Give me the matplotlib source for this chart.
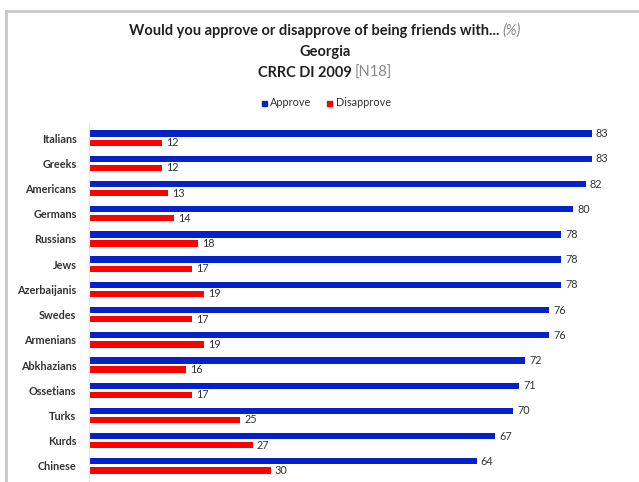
import matplotlib
matplotlib.use("Agg")
import matplotlib.pyplot as plt
import numpy as np
from matplotlib.lines import Line2D
from matplotlib.patches import Rectangle

# Data (CRRC DI 2009, Georgia)
groups = ["Italians", "Greeks", "Americans", "Germans", "Russians", "Jews",
          "Azerbaijanis", "Swedes", "Armenians", "Abkhazians", "Ossetians",
          "Turks", "Kurds", "Chinese"]
approve = [83, 83, 82, 80, 78, 78, 78, 76, 76, 72, 71, 70, 67, 64]
disapprove = [12, 12, 13, 14, 18, 17, 19, 17, 19, 16, 17, 25, 27, 30]

blue = "#0521C8"
red = "#FF0000"
txt = "#333333"
font = "Lato"

fig = plt.figure(figsize=(6.39, 4.82), dpi=100)
W, H = 639, 482

# light frame from the slide crop
fig.add_artist(Line2D([6 / W, 638 / W], [1 - 11 / H, 1 - 11 / H], color="#c8c8c8", lw=2))
fig.add_artist(Line2D([6 / W, 6 / W], [0, 1 - 11 / H], color="#c8c8c8", lw=2))

ax = fig.add_axes([89 / W, 1 - 481 / H, 545 / W, (481 - 123) / H])
y = np.arange(len(groups))
off = 0.18
h = 0.25
ax.barh(y - off, approve, height=h, color=blue)
ax.barh(y + off, disapprove, height=h, color=red)

for yi, a, d in zip(y, approve, disapprove):
    ax.text(a + 0.7, yi - off, str(a), va="center", ha="left", fontsize=7.8,
            color=txt, family=font)
    ax.text(d + 0.7, yi + off, str(d), va="center", ha="left", fontsize=7.8,
            color=txt, family=font)

ax.set_xlim(0, 90)
ax.set_ylim(len(groups) - 0.4, -0.6)
ax.set_yticks(y)
ax.set_yticklabels(groups, fontsize=7.8, color=txt, family=font, fontweight="bold")
ax.tick_params(axis="y", length=0, pad=9)
ax.set_xticks([])
for s in ["top", "right", "bottom"]:
    ax.spines[s].set_visible(False)
ax.spines["left"].set_color("#e6e6e6")

# title lines, part bold, part plain grey
def title_line(ypix, bold_part, plain_part, italic=False):
    fig.canvas.draw()
    r = fig.canvas.get_renderer()
    t1 = fig.text(0, 1 - ypix / H, bold_part, fontsize=10.5, fontweight="bold",
                  family=font, color="#222222", va="center")
    t2 = fig.text(0, 1 - ypix / H, plain_part, fontsize=10.5,
                  family=font, color="#888888", va="center",
                  style="italic" if italic else "normal")
    w1 = t1.get_window_extent(r).width
    w2 = t2.get_window_extent(r).width if plain_part else 0
    total = w1 + w2
    x0 = 325 - total / 2
    t1.set_x(x0 / W)
    t2.set_x((x0 + w1) / W)

title_line(31, "Would you approve or disapprove of being friends with... ", "(%)", italic=True)
title_line(52, "Georgia", "")
title_line(73, "CRRC DI 2009 ", "[N18]")

# legend
ly = 1 - 103 / H
fig.add_artist(Rectangle((262 / W, ly - 2.5 / H), 5 / W, 5 / H, color=blue))
fig.text(270 / W, ly, "Approve", fontsize=7.8, family=font, color=txt, va="center")
fig.add_artist(Rectangle((327 / W, ly - 2.5 / H), 5 / W, 5 / H, color=red))
fig.text(336 / W, ly, "Disapprove", fontsize=7.8, family=font, color=txt, va="center")

fig.savefig("out.png", dpi=100)
